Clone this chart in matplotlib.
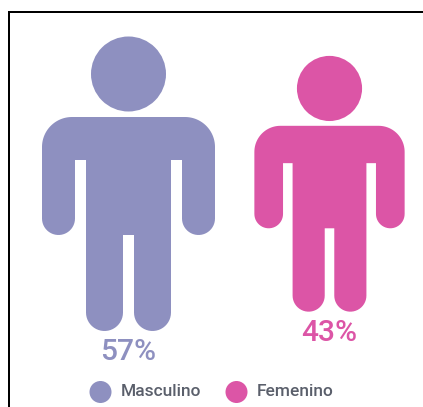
import numpy as np
import matplotlib
matplotlib.use('Agg')
import matplotlib.pyplot as plt
from matplotlib.patches import Circle, Polygon

plt.rcParams['font.family'] = ['Roboto', 'DejaVu Sans']

categories = ['Masculino', 'Femenino']
values = [57, 43]
value_labels = ['57%', '43%']
colors = ['#8E90C0', '#DC55A6']

W, H = 423, 407
# area of each figure follows the value
BASE_VALUE = 57


def arc(cx, cy, r, a0, a1, n=24):
    t = np.radians(np.linspace(a0, a1, n))
    return np.column_stack([cx + r * np.cos(t), cy + r * np.sin(t)])


def person_outline():
    # right half of the body, y grows downwards, centred on the figure
    right = np.vstack([
        arc(56.5, -37, 30, -90, 0),       # shoulder
        arc(70, 34.5, 16.5, 0, 180),      # arm end
        [[53.5, -24], [42.5, -24]],       # slot between arm and body
        arc(24, 128.5, 18.5, 0, 180),     # foot
        [[5.5, 51]],
    ])
    left = right[::-1] * [-1, 1]
    return np.vstack([right, left])


def draw_person(ax, cx, cy, scale, color):
    pts = person_outline() * scale + [cx, cy]
    ax.add_patch(Polygon(pts, closed=True, fc=color, ec='none'))
    ax.add_patch(Circle((cx, cy - 110 * scale), 37.5 * scale, fc=color, ec='none'))


fig = plt.figure(figsize=(W / 100, H / 100), dpi=100)
ax = fig.add_axes([0, 0, 1, 1])
ax.set_xlim(0, W)
ax.set_ylim(H, 0)
ax.axis('off')

# frame of the screenshot, only left and top show
ax.plot([9, 9, W], [H, 12, 12], color='black', lw=1.44, solid_joinstyle='miter')

centers = [128.5, 329.5]
mid_y = 184
legend_dots = [100.5, 236.5]
legend_text = [121, 257]

for i, cat in enumerate(categories):
    scale = np.sqrt(values[i] / BASE_VALUE)
    draw_person(ax, centers[i], mid_y, scale, colors[i])
    bottom = mid_y + 147 * scale
    ax.text(centers[i], bottom + 21, value_labels[i], color=colors[i], fontsize=21.5,
            fontweight='medium', ha='center', va='center')
    ax.add_patch(Circle((legend_dots[i], 392), 11, fc=colors[i], ec='none'))
    ax.text(legend_text[i], 392, cat, color='#5A5F6B', fontsize=12.5, fontweight='medium',
            ha='left', va='center')

fig.savefig('out.png', dpi=100)
